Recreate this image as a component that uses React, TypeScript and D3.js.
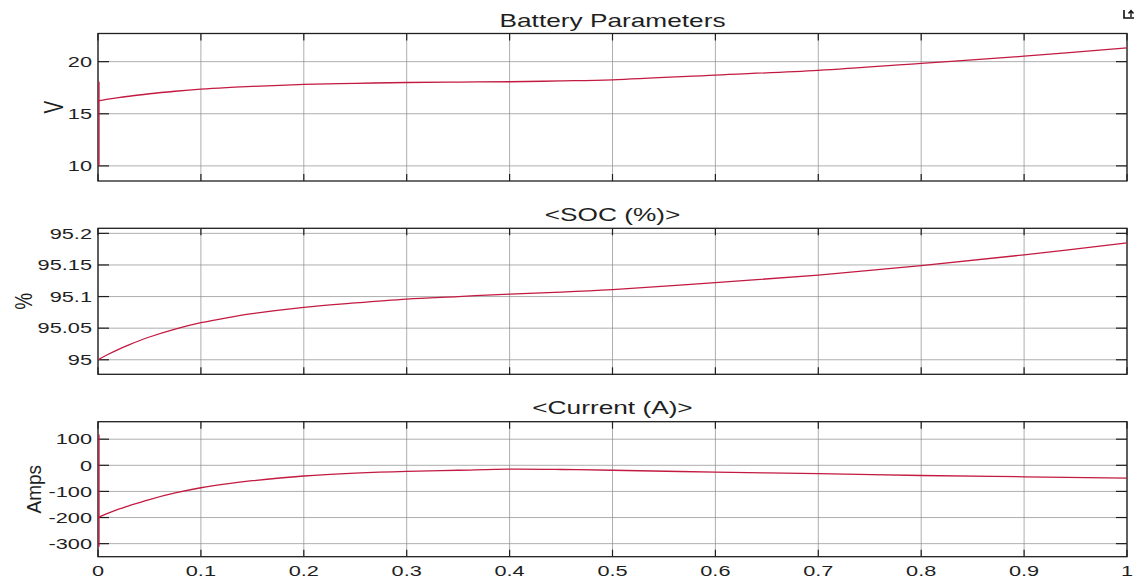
import * as d3 from "d3";

// simulation time (s)
const time = [0, 0.01, 0.02, 0.03, 0.05, 0.075, 0.1, 0.125, 0.15, 0.2, 0.25, 0.3, 0.35, 0.4, 0.45, 0.5, 0.6, 0.7, 0.8, 0.9, 1.0];
const voltage = [16.23, 16.4, 16.55, 16.68, 16.92, 17.16, 17.36, 17.51, 17.63, 17.81, 17.92, 18.0, 18.04, 18.07, 18.15, 18.26, 18.71, 19.17, 19.84, 20.52, 21.32];
const soc = [95.0, 95.0087, 95.0165, 95.0236, 95.036, 95.0485, 95.0586, 95.0664, 95.073, 95.083, 95.09, 95.096, 95.1, 95.104, 95.107, 95.111, 95.122, 95.134, 95.149, 95.166, 95.185];
const current = [-200, -183, -168, -155, -131, -106, -86, -71, -59, -41, -30, -23, -19, -15, -16, -19, -26, -32, -39, -44, -49];

// initial transients at t = 0
const voltageSpike = [10, 18.07];
const currentSpike = [118, -312];

const xTicks = [0, 0.1, 0.2, 0.3, 0.4, 0.5, 0.6, 0.7, 0.8, 0.9, 1];
const voltageTicks = [10, 15, 20];
const socTicks = [95, 95.05, 95.1, 95.15, 95.2];
const currentTicks = [-300, -200, -100, 0, 100];

const W = 1141;
const H = 580;
const LEFT = 98;
const RIGHT = 1127;
const FONT = "'Liberation Sans', Arial, Helvetica, sans-serif";
const TEXT = "#1f1f1f";
const LINE = "#c21a40";
const STRETCH = 1.5; // text in the figure is stretched horizontally

const x = d3.scaleLinear().domain([0, 1]).range([LEFT, RIGHT]);
const fmt = (v) => String(+v.toFixed(2));

const Txt = ({ x, y, size, anchor = "start", sx = STRETCH, children, dy = "0" }) => (
  <text transform={`translate(${x},${y}) scale(${sx},1)`} dy={dy} textAnchor={anchor} fontSize={size} fill={TEXT} fontFamily={FONT}>
    {children}
  </text>
);

const Panel = ({ top, bottom, domain, ticks, values, spike, title, titleY, ylabel, ylabelX, ylabelStretch, showX = false }) => {
  const y = d3.scaleLinear().domain(domain).range([bottom, top]);
  const line = d3
    .line<number>()
    .x((_, i) => x(time[i]))
    .y((d) => y(d))
    .curve(d3.curveCatmullRom.alpha(0.5));
  return (
    <g>
      {xTicks.map((t) => (
        <line key={"gx" + t} x1={x(t)} x2={x(t)} y1={top} y2={bottom} stroke="#8c8c8c" strokeOpacity={0.7} strokeWidth={1} />
      ))}
      {ticks.map((t) => (
        <line key={"gy" + t} x1={LEFT} x2={RIGHT} y1={y(t)} y2={y(t)} stroke="#8c8c8c" strokeOpacity={0.7} strokeWidth={1} />
      ))}
      {xTicks.map((t) => (
        <g key={"tx" + t}>
          <line x1={x(t)} x2={x(t)} y1={top} y2={top + 7} stroke={TEXT} strokeWidth={1.2} />
          <line x1={x(t)} x2={x(t)} y1={bottom} y2={bottom - 7} stroke={TEXT} strokeWidth={1.2} />
        </g>
      ))}
      {ticks.map((t) => (
        <g key={"ty" + t}>
          <line x1={LEFT} x2={LEFT + 11} y1={y(t)} y2={y(t)} stroke={TEXT} strokeWidth={1.2} />
          <line x1={RIGHT} x2={RIGHT - 11} y1={y(t)} y2={y(t)} stroke={TEXT} strokeWidth={1.2} />
          <Txt x={LEFT - 6} y={y(t)} dy="0.36em" anchor="end" size={14.5}>
            {fmt(t)}
          </Txt>
        </g>
      ))}
      <rect x={LEFT} y={top} width={RIGHT - LEFT} height={bottom - top} fill="none" stroke={TEXT} strokeWidth={1.3} />
      <path d={line(values)} fill="none" stroke={LINE} strokeWidth={1.3} />
      {spike && (
        <line x1={x(0) + 1} x2={x(0) + 1} y1={y(spike[0])} y2={y(spike[1])} stroke={LINE} strokeWidth={1.3} />
      )}
      {showX &&
        xTicks.map((t) => (
          <Txt key={"lx" + t} x={x(t)} y={bottom + 19.5} anchor="middle" size={14.5}>
            {fmt(t)}
          </Txt>
        ))}
      <Txt x={(LEFT + RIGHT) / 2} y={titleY} anchor="middle" size={17.5} sx={1.5}>
        {title}
      </Txt>
      <text
        transform={`translate(${ylabelX},${(top + bottom) / 2}) scale(${ylabelStretch},1) rotate(-90)`}
        dy="0.36em"
        textAnchor="middle"
        fontSize={19}
        fill={TEXT}
        fontFamily={FONT}
      >
        {ylabel}
      </text>
    </g>
  );
};

export default function App() {
  return (
    <svg width={W} height={H} style={{ position: "absolute", left: 0, top: 0, background: "#fff" }}>
      <rect width={W} height={H} fill="#fff" />
      <Panel top={33.5} bottom={181} domain={[8.55, 22.7]} ticks={voltageTicks} values={voltage} spike={voltageSpike}
        title="Battery Parameters" titleY={26.5} ylabel="V" ylabelX={53} ylabelStretch={1.45} />
      <Panel top={228.3} bottom={374.3} domain={[94.977, 95.208]} ticks={socTicks} values={soc} spike={null}
        title="<SOC (%)>" titleY={221} ylabel="%" ylabelX={23} ylabelStretch={1.3} />
      <Panel top={421.7} bottom={556.7} domain={[-350, 167]} ticks={currentTicks} values={current} spike={currentSpike}
        title="<Current (A)>" titleY={414} ylabel="Amps" ylabelX={34} ylabelStretch={1.05} showX />
      {/* scope dock icon */}
      <path d="M1124,10 V18 H1134" fill="none" stroke="#111" strokeWidth={1.6} />
      <path d="M1131,17 V11 M1128.5,13.5 L1131,10.5 L1133.5,13.5" fill="none" stroke="#111" strokeWidth={1.4} />
    </svg>
  );
}
